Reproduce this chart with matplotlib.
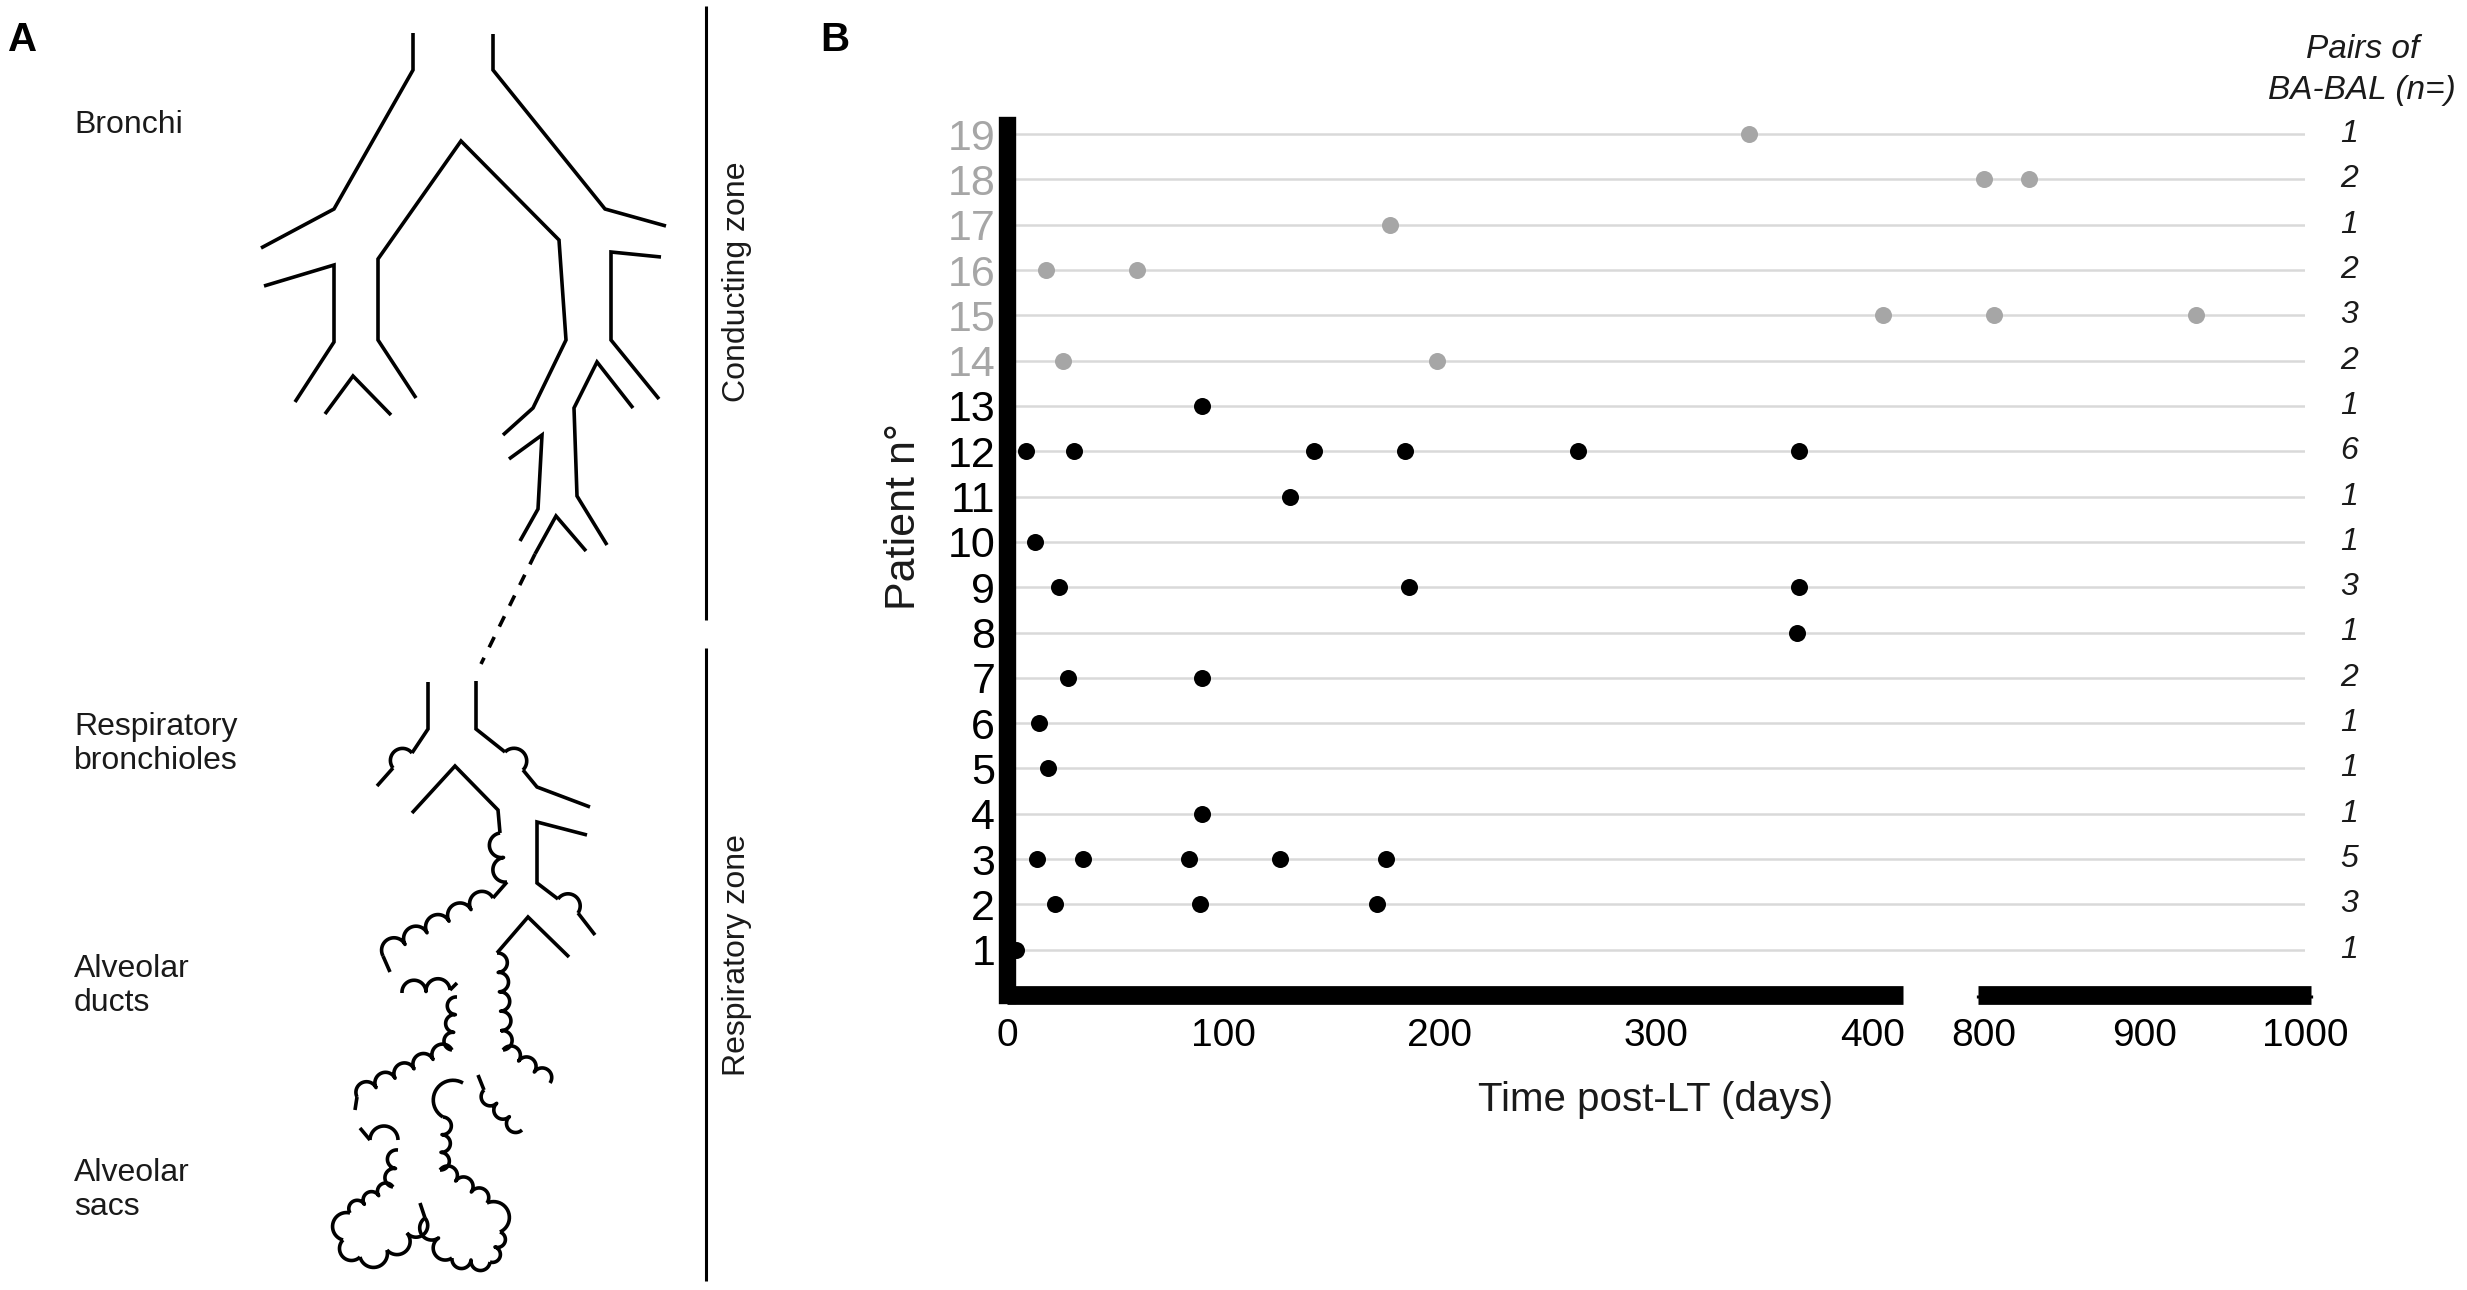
import numpy as np
import matplotlib
matplotlib.use("Agg")
import matplotlib.pyplot as plt

plt.rcParams['font.family'] = ['Liberation Sans', 'DejaVu Sans']

# data
patients = list(range(1, 20))
sample_days = [
    [4],                            # 1
    [22, 89, 171],                  # 2
    [14, 35, 84, 126, 175],         # 3
    [90],                           # 4
    [19],                           # 5
    [15],                           # 6
    [28, 90],                       # 7
    [365],                          # 8
    [24, 186, 366],                 # 9
    [13],                           # 10
    [131],                          # 11
    [9, 31, 142, 184, 264, 366],    # 12
    [90],                           # 13
    [26, 199],                      # 14
    [405, 806, 932],                # 15
    [18, 60],                       # 16
    [177],                          # 17
    [800, 828],                     # 18
    [343],                          # 19
]
pairs_n = [1, 3, 5, 1, 1, 1, 2, 1, 3, 1, 1, 6, 1, 2, 3, 2, 1, 2, 1]
grey_patients = [14, 15, 16, 17, 18, 19]
left_ticks = [0, 100, 200, 300, 400]
right_ticks = [800, 900, 1000]
break_lo, break_hi = 414, 796

GREY = '#a6a6a6'
W, H = 2467, 1290
fig = plt.figure(figsize=(W / 100, H / 100), dpi=100)


def fx(px):
    return px / W


# ---------------- panel A : schematic, drawn in pixel space ----------------
axA = fig.add_axes([0, 0, 1, 1], facecolor='none')
axA.set_xlim(0, W)
axA.set_ylim(H, 0)
axA.axis('off')
LW = 2.6


def line(pts, **kw):
    pts = np.array(pts, float)
    axA.plot(pts[:, 0], pts[:, 1], color='black', lw=kw.pop('lw', LW),
             solid_capstyle='butt', solid_joinstyle='miter', **kw)


def scallop(p0, p1, n, side=1):
    # n half-circle bumps between p0 and p1, side=+1 bulges to the right of travel
    p0 = np.array(p0, float)
    p1 = np.array(p1, float)
    d = p1 - p0
    L = np.hypot(*d)
    u = d / L
    nrm = np.array([-u[1], u[0]]) * side
    r = L / (2 * n)
    th = np.linspace(np.pi, 0, 24)
    segs = []
    for i in range(n):
        c = p0 + u * r * (2 * i + 1)
        segs.append(c + r * np.cos(th)[:, None] * u + r * np.sin(th)[:, None] * nrm)
    pts = np.vstack(segs)
    axA.plot(pts[:, 0], pts[:, 1], color='black', lw=LW, solid_capstyle='butt')


# bronchi
line([(413, 33), (413, 70), (334, 209), (261, 248)])
line([(493, 34), (493, 70), (605, 209), (666, 226)])
line([(416, 398), (378, 340), (378, 259), (461, 141), (559, 240), (566, 340),
      (533, 408), (503, 435)])
line([(264, 286), (334, 265), (334, 342), (295, 402)])
line([(325, 414), (353, 376), (391, 415)])
line([(661, 257), (611, 252), (611, 340), (659, 399)])
line([(633, 408), (597, 362), (574, 408), (577, 496), (607, 545)])
line([(509, 459), (542, 435), (538, 509), (520, 541)])
line([(586, 551), (556, 516), (535, 554)])
line([(535, 554), (481, 664)], ls=(0, (3.2, 3.2)))

# respiratory bronchioles
line([(428, 682), (428, 729), (412, 753)])
scallop((412, 753), (393, 768), 1, 1)
line([(393, 768), (377, 786)])
line([(476, 681), (476, 729), (505, 752)])
scallop((505, 752), (523, 770), 1, -1)
line([(523, 770), (537, 787), (590, 807)])
line([(412, 813), (455, 766), (498, 810), (500, 833)])
scallop((500, 833), (507, 882), 2, 1)
line([(507, 882), (493, 898)])
scallop((493, 898), (383, 956), 5, 1)
line([(383, 956), (390, 972)])
line([(587, 835), (537, 822), (537, 883), (558, 899)])
scallop((558, 899), (578, 913), 1, -1)
line([(578, 913), (595, 935)])

# alveolar ducts
line([(569, 957), (528, 917), (497, 953)])
scallop((497, 953), (503, 1050), 5, -1)
scallop((503, 1050), (550, 1083), 3, -1)
scallop((402, 993), (450, 990), 2, -1)
line([(450, 990), (457, 983)])
scallop((457, 997), (452, 1050), 3, 1)
scallop((452, 1050), (357, 1097), 5, 1)
line([(357, 1097), (355, 1110)])

# alveolar sacs
line([(478, 1075), (484, 1090)])
scallop((484, 1090), (522, 1130), 3, 1)
scallop((463, 1083), (443, 1117), 1, 1)
scallop((443, 1117), (440, 1170), 3, -1)
scallop((440, 1170), (487, 1203), 3, -1)
scallop((487, 1203), (500, 1232), 1, -1)
scallop((500, 1232), (490, 1262), 2, -1)
scallop((490, 1262), (452, 1258), 2, -1)
scallop((452, 1258), (425, 1218), 2, -1)
line([(425, 1218), (420, 1203)])
line([(360, 1128), (370, 1140)])
scallop((370, 1140), (398, 1140), 1, -1)
scallop((398, 1150), (393, 1187), 2, 1)
scallop((393, 1187), (350, 1213), 3, 1)
scallop((350, 1213), (343, 1240), 1, 1)
scallop((343, 1240), (360, 1257), 1, 1)
scallop((360, 1257), (387, 1250), 1, 1)
scallop((387, 1250), (407, 1233), 1, 1)
scallop((407, 1233), (425, 1218), 1, 1)

# zone bars
line([(706, 6), (706, 620)], lw=2.2)
line([(706, 648), (706, 1281)], lw=2.2)

txt = dict(fontsize=23, color='#1a1a1a', va='center', ha='left', linespacing=1.2)
axA.text(74, 125, 'Bronchi', **txt)
axA.text(74, 744, 'Respiratory\nbronchioles', **txt)
axA.text(74, 986, 'Alveolar\nducts', **txt)
axA.text(74, 1190, 'Alveolar\nsacs', **txt)
axA.text(737, 282, 'Conducting zone', fontsize=23, color='#1a1a1a', rotation=90,
         ha='center', va='center')
axA.text(737, 955, 'Respiratory zone', fontsize=23, color='#1a1a1a', rotation=90,
         ha='center', va='center')
axA.text(8, 40, 'A', fontsize=29, fontweight='bold', va='center', ha='left')
axA.text(820, 40, 'B', fontsize=29, fontweight='bold', va='center', ha='left')

# ---------------- panel B : broken-axis dot plot ----------------
y_top = 19.2
bottom = 1 - 995 / H
height = (995 - 125) / H

ax_grid = fig.add_axes([fx(1007), bottom, fx(2305) - fx(1007), height], facecolor='none')
ax_grid.set_xlim(0, 1)
ax_grid.set_ylim(0, y_top)
ax_grid.axis('off')
for p in patients:
    ax_grid.axhline(p, color='#d9d9d9', lw=1.8, zorder=0)
for p, n in zip(patients, pairs_n):
    ax_grid.text(1.034, p, str(n), fontsize=23, style='italic', ha='center', va='center',
                 color='#1a1a1a')

ax1 = fig.add_axes([fx(1007), bottom, fx(1902.5) - fx(1007), height], facecolor='none')
ax2 = fig.add_axes([fx(1977.7), bottom, fx(2310.5) - fx(1977.7), height], facecolor='none')
ax1.set_xlim(0, break_lo)
ax2.set_xlim(break_hi, 1003.4)

for ax in (ax1, ax2):
    ax.set_ylim(0, y_top)
    ax.spines['top'].set_visible(False)
    ax.spines['right'].set_visible(False)
    ax.spines['bottom'].set_linewidth(13.5)
    ax.spines['bottom'].set_capstyle('butt')
    ax.tick_params(axis='x', direction='out', length=2.5, width=11, pad=14,
                   labelsize=28, colors='black')

ax1.spines['left'].set_linewidth(12.5)
ax1.spines['left'].set_capstyle('projecting')
ax1.set_xticks(left_ticks)
ax1.set_yticks(patients)
ax1.set_yticklabels([str(p) for p in patients])
ax1.tick_params(axis='y', length=0, pad=8.5, labelsize=31)
for lab, p in zip(ax1.get_yticklabels(), patients):
    lab.set_color(GREY if p in grey_patients else 'black')

ax2.spines['left'].set_visible(False)
ax2.set_yticks([])
ax2.set_xticks(right_ticks)

for p, days in zip(patients, sample_days):
    col = GREY if p in grey_patients else 'black'
    d = np.array(days, float)
    lo = d[d <= break_lo]
    hi = d[d >= break_hi]
    if len(lo):
        ax1.scatter(lo, [p] * len(lo), s=150, color=col, zorder=5, clip_on=False,
                    linewidths=0)
    if len(hi):
        ax2.scatter(hi, [p] * len(hi), s=150, color=col, zorder=5, clip_on=False,
                    linewidths=0)

fig.text(904 / W, 1 - 516 / H, 'Patient n°', fontsize=31, rotation=90,
         ha='center', va='center', color='#1a1a1a')
fig.text(1656 / W, 1 - 1100 / H, 'Time post-LT (days)', fontsize=29,
         ha='center', va='center', color='#1a1a1a')
fig.text(2363 / W, 1 - 50 / H, 'Pairs of', fontsize=24, style='italic',
         ha='center', va='center', color='#1a1a1a')
fig.text(2362 / W, 1 - 91 / H, 'BA-BAL (n=)', fontsize=24, style='italic',
         ha='center', va='center', color='#1a1a1a')

fig.savefig('out.png', dpi=100)
